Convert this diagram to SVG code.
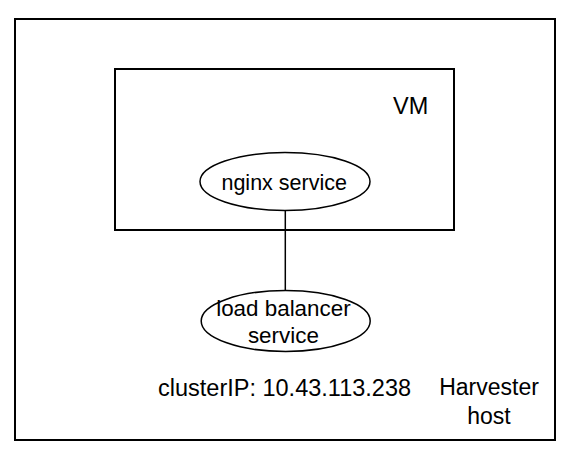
<svg xmlns="http://www.w3.org/2000/svg" width="580" height="468" viewBox="0 0 580 468">
<style>
.box{fill:none;stroke:#000;stroke-width:2}
.ell{fill:#fff;stroke:#000;stroke-width:1.5}
.t{font-family:"Liberation Sans",Arial,sans-serif;fill:#000}
.conn{stroke:#000;stroke-width:1.5;fill:none}
</style>
<rect width="580" height="468" fill="#fff"/>
<g id="harvester-host">
<rect class="box" x="15" y="19" width="540" height="421"/>
<text class="t" x="489" y="395" font-size="23" text-anchor="middle">Harvester</text>
<text class="t" x="489" y="423.5" font-size="23" text-anchor="middle">host</text>
</g>
<g id="vm">
<rect class="box" x="115" y="69" width="339" height="161"/>
<text class="t" x="393" y="114" font-size="23.5">VM</text>
</g>
<g id="connectors">
<line class="conn" x1="285.3" y1="211" x2="285.3" y2="290"/>
</g>
<g id="nginx-service">
<ellipse class="ell" cx="285" cy="181.5" rx="85" ry="29"/>
<text class="t" x="284.2" y="189.5" font-size="21.5" text-anchor="middle">nginx service</text>
</g>
<g id="load-balancer-service">
<ellipse class="ell" cx="285.7" cy="321" rx="84.5" ry="30.5"/>
<text class="t" x="283.4" y="316" font-size="22.4" text-anchor="middle">load balancer</text>
<text class="t" x="283.4" y="343.3" font-size="22.4" text-anchor="middle">service</text>
</g>
<g id="cluster-ip">
<text class="t" x="158" y="396" font-size="23.5">clusterIP: 10.43.113.238</text>
</g>
</svg>
